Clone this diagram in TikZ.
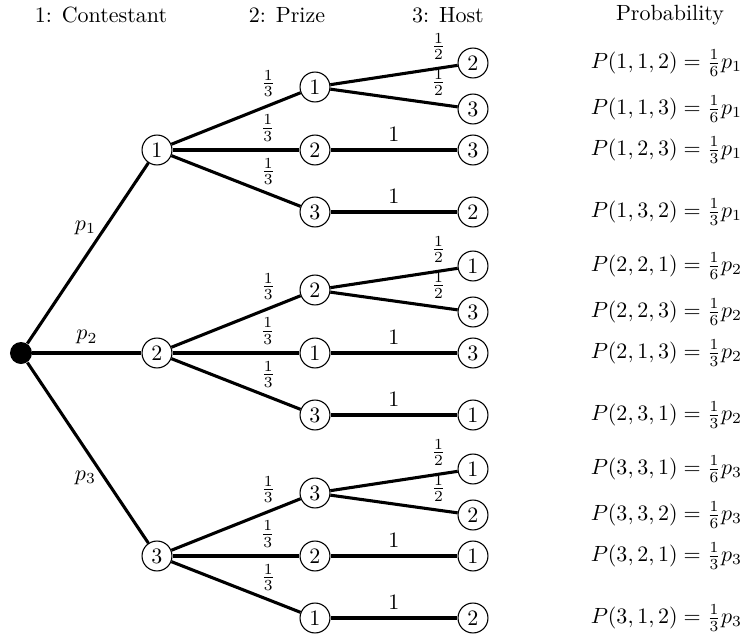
\documentclass[tikz,border=0pt]{standalone}
\begin{document}
\begin{tikzpicture}[x=0.4545pt,y=-0.4545pt,
  st/.style={circle,draw,line width=0.5pt,fill=white,minimum size=13.6pt,inner sep=0pt},
  rootdot/.style={circle,fill=black,minimum size=10pt,inner sep=0pt},
  br/.style={line width=1.4pt},
  prob/.style={anchor=west}]
\useasboundingbox (0,0) rectangle (741,638);
% titles
\node (t1) at (101,15) {1: Contestant};
\node (t2) at (287,15) {2: Prize};
\node (t3) at (448,15) {3: Host};
\node (t4) at (670,15) {Probability};
% nodes
\node[rootdot] (r) at (21,353) {};
\node[st] (a1) at (157,150) {1};
\node[st] (a2) at (157,353) {2};
\node[st] (a3) at (157,556) {3};
\node[st] (b11) at (315,87) {1};
\node[st] (b12) at (315,150) {2};
\node[st] (b13) at (315,212) {3};
\node[st] (b21) at (315,290) {2};
\node[st] (b22) at (315,353) {1};
\node[st] (b23) at (315,415) {3};
\node[st] (b31) at (315,493) {3};
\node[st] (b32) at (315,556) {2};
\node[st] (b33) at (315,618) {1};
\node[st] (c111) at (473,63) {2};
\node[st] (c112) at (473,109) {3};
\node[st] (c12) at (473,150) {3};
\node[st] (c13) at (473,212) {2};
\node[st] (c211) at (473,266) {1};
\node[st] (c212) at (473,312) {3};
\node[st] (c22) at (473,353) {3};
\node[st] (c23) at (473,415) {1};
\node[st] (c311) at (473,469) {1};
\node[st] (c312) at (473,515) {2};
\node[st] (c32) at (473,556) {1};
\node[st] (c33) at (473,618) {2};
% edges level 1
\draw[br] (r) -- node[pos=0.64,left]{$p_1$} (a1);
\draw[br] (r) -- node[midway,above]{$p_2$} (a2);
\draw[br] (r) -- node[pos=0.64,left]{$p_3$} (a3);
% edges level 2
\foreach \a/\b in {a1/b11,a1/b12,a1/b13,a2/b21,a2/b22,a2/b23,a3/b31,a3/b32,a3/b33}
  \draw[br] (\a) -- node[pos=0.75,above]{$\frac13$} (\b);
% edges level 3
\foreach \b/\c in {b11/c111,b11/c112,b21/c211,b21/c212,b31/c311,b31/c312}
  \draw[br] (\b) -- node[pos=0.85,above]{$\frac12$} (\c);
\foreach \b/\c in {b12/c12,b13/c13,b22/c22,b23/c23,b32/c32,b33/c33}
  \draw[br] (\b) -- node[midway,above]{$1$} (\c);
% probabilities
\node[prob] (q1) at (583,63) {$P(1,1,2) = \frac16 p_1$};
\node[prob] (q2) at (583,109) {$P(1,1,3) = \frac16 p_1$};
\node[prob] (q3) at (583,150) {$P(1,2,3) = \frac13 p_1$};
\node[prob] (q4) at (583,212) {$P(1,3,2) = \frac13 p_1$};
\node[prob] (q5) at (583,266) {$P(2,2,1) = \frac16 p_2$};
\node[prob] (q6) at (583,312) {$P(2,2,3) = \frac16 p_2$};
\node[prob] (q7) at (583,353) {$P(2,1,3) = \frac13 p_2$};
\node[prob] (q8) at (583,415) {$P(2,3,1) = \frac13 p_2$};
\node[prob] (q9) at (583,469) {$P(3,3,1) = \frac16 p_3$};
\node[prob] (q10) at (583,515) {$P(3,3,2) = \frac16 p_3$};
\node[prob] (q11) at (583,556) {$P(3,2,1) = \frac13 p_3$};
\node[prob] (q12) at (583,618) {$P(3,1,2) = \frac13 p_3$};
\end{tikzpicture}
\end{document}
